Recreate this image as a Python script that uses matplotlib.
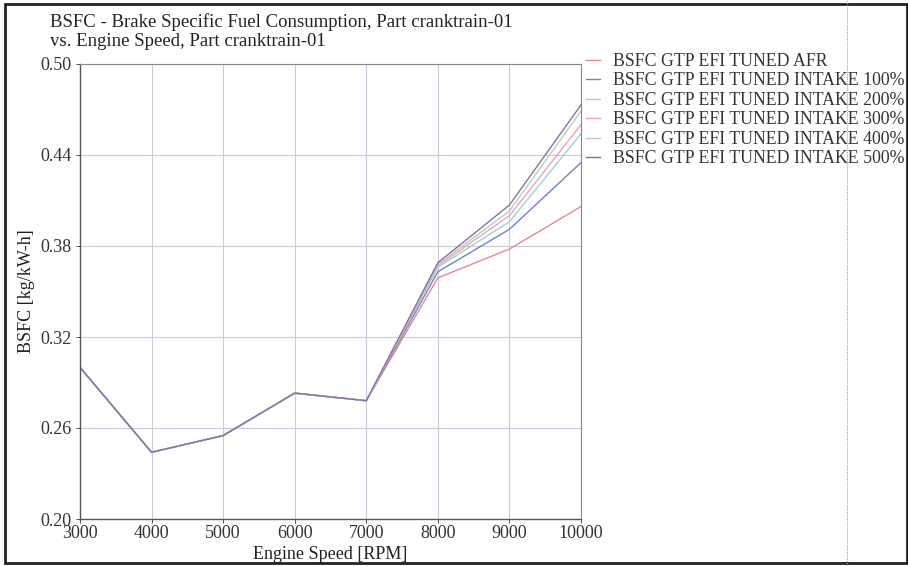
import matplotlib
matplotlib.use("Agg")
import matplotlib.pyplot as plt
from matplotlib.lines import Line2D
from matplotlib.patches import Rectangle

plt.rcParams['font.family'] = ['Liberation Serif', 'DejaVu Serif']

speed = [3000, 4000, 5000, 6000, 7000, 8000, 9000, 10000]
bsfc_afr = [0.300, 0.244, 0.255, 0.283, 0.278, 0.359, 0.378, 0.406]
bsfc_100 = [0.300, 0.244, 0.255, 0.283, 0.278, 0.363, 0.391, 0.435]
bsfc_200 = [0.300, 0.244, 0.255, 0.283, 0.278, 0.366, 0.396, 0.454]
bsfc_300 = [0.300, 0.244, 0.255, 0.283, 0.278, 0.367, 0.400, 0.460]
bsfc_400 = [0.300, 0.244, 0.255, 0.283, 0.278, 0.368, 0.403, 0.469]
bsfc_500 = [0.300, 0.244, 0.255, 0.283, 0.278, 0.369, 0.407, 0.473]

labels = [
    "BSFC GTP EFI TUNED AFR",
    "BSFC GTP EFI TUNED INTAKE 100%",
    "BSFC GTP EFI TUNED INTAKE 200%",
    "BSFC GTP EFI TUNED INTAKE 300%",
    "BSFC GTP EFI TUNED INTAKE 400%",
    "BSFC GTP EFI TUNED INTAKE 500%",
]
series = [bsfc_afr, bsfc_100, bsfc_200, bsfc_300, bsfc_400, bsfc_500]
colors = ["#e58a8f", "#6f82cf", "#9fd3c7", "#e7a3c3", "#b9cfb6", "#8a6fa6"]

yticks = [0.20, 0.26, 0.32, 0.38, 0.44, 0.50]
xticks = [3000, 4000, 5000, 6000, 7000, 8000, 9000, 10000]

W, H = 908, 566
fig = plt.figure(figsize=(W / 100, H / 100), dpi=100)
fig.patch.set_facecolor("white")
ax = fig.add_axes([80 / W, 1 - 519 / H, 501 / W, 455 / H])

for ys, c, lab in zip(series, colors, labels):
    ax.plot(speed, ys, color=c, lw=1.0, label=lab)

ax.set_xlim(3000, 10000)
ax.set_ylim(0.20, 0.50)
ax.set_xticks(xticks)
ax.set_yticks(yticks)
ax.set_xticklabels([str(v) for v in xticks])
ax.set_yticklabels([f"{v:.2f}" for v in yticks])
ax.grid(True, color="#c9c9dc", lw=0.8)
ax.tick_params(axis="both", labelsize=13, colors="#333333", length=3, width=0.6)
ax.tick_params(axis="x", pad=1)
ax.tick_params(axis="y", pad=3)
for side in ["left", "bottom"]:
    ax.spines[side].set_color("#555555")
    ax.spines[side].set_linewidth(1.0)
for side in ["top", "right"]:
    ax.spines[side].set_color("#888888")
    ax.spines[side].set_linewidth(0.8)

ax.set_xlabel("Engine Speed [RPM]", fontsize=13, color="#222222", labelpad=3)
ax.set_ylabel("BSFC [kg/kW-h]", fontsize=13, color="#222222", labelpad=4)

fig.text(50 / W, 1 - 22 / H, "BSFC - Brake Specific Fuel Consumption, Part cranktrain-01",
         fontsize=13.5, color="#222222", va="center", ha="left")
fig.text(50 / W, 1 - 41 / H, "vs. Engine Speed, Part cranktrain-01",
         fontsize=13.5, color="#222222", va="center", ha="left")

leg = ax.legend(loc="upper left", bbox_to_anchor=(586 / W, 1 - 53 / H),
                bbox_transform=fig.transFigure, frameon=False, fontsize=12.8,
                handlelength=0.8, handletextpad=0.7, labelspacing=0.14,
                borderaxespad=0, borderpad=0)
for t in leg.get_texts():
    t.set_color("#333333")

# divider on the right side of the panel
fig.add_artist(Line2D([847 / W, 847 / W], [0, 1], transform=fig.transFigure,
                      color="#9aa0c0", lw=0.8, ls=(0, (1, 1))))

# outer frame
fig.add_artist(Rectangle((5 / W, 3 / H), 902 / W, 559 / H, transform=fig.transFigure,
                         fill=False, edgecolor="#222222", lw=2.0))

fig.savefig("out.png", dpi=100)
